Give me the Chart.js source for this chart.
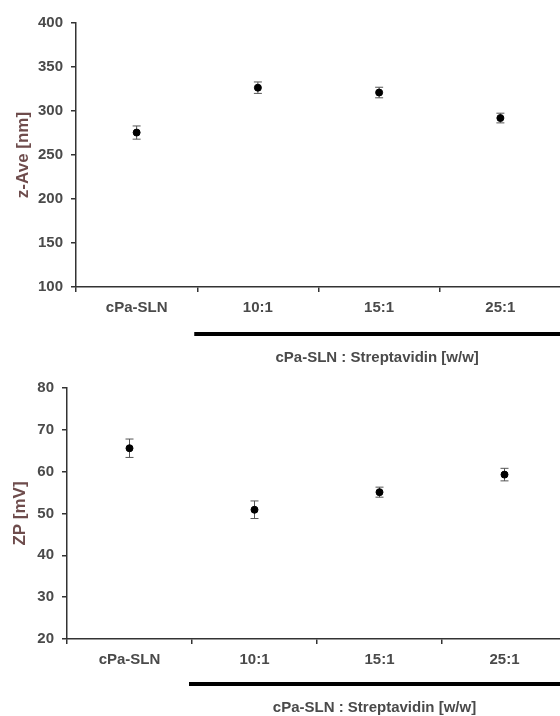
<!DOCTYPE html>
<html lang="en">
<head>
<meta charset="UTF-8">
<title>z-Ave / ZP</title>
<script src="https://cdn.jsdelivr.net/npm/chart.js"></script>
<style>
    body { margin: 0; width: 560px; height: 716px; overflow: hidden; background: #fff; position: relative; }
    #topChart { position: absolute; left: 0; top: 0; }
    #bottomChart { position: absolute; left: 0; top: 370px; }
</style>
</head>
<body>
<canvas id="topChart" width="566" height="370"></canvas>
<canvas id="bottomChart" width="572" height="346"></canvas>

<script>
    // data
    const categories = ['cPa-SLN', '10:1', '15:1', '25:1'];
    const zAve = [275.5, 326.5, 321, 292];
    const zAveErr = [7.5, 6.5, 6, 5.5];
    const zp = [65.6, 50.9, 55.1, 59.3];
    const zpErr = [2.2, 2.1, 1.2, 1.5];
    const groupLabel = 'cPa-SLN : Streptavidin [w/w]';

    const tickColor = '#4a4a4a';
    const titleColor = '#6e4c4c';
    const axisColor = '#333';

    // error bars under the points
    const errorBars = {
        id: 'errorBars',
        beforeDatasetsDraw(chart, args, opts) {
            const ctx = chart.ctx;
            const x = chart.scales.x, y = chart.scales.y;
            const vals = chart.data.datasets[0].data;
            ctx.save();
            ctx.strokeStyle = '#555';
            ctx.lineWidth = 1;
            vals.forEach((v, i) => {
                const px = x.getPixelForValue(i);
                const yt = y.getPixelForValue(v + opts.errors[i]);
                const yb = y.getPixelForValue(v - opts.errors[i]);
                ctx.beginPath();
                ctx.moveTo(px, yt); ctx.lineTo(px, yb);
                ctx.moveTo(px - 4, yt); ctx.lineTo(px + 4, yt);
                ctx.moveTo(px - 4, yb); ctx.lineTo(px + 4, yb);
                ctx.stroke();
            });
            ctx.restore();
        }
    };

    // thick bar + label under the ratio groups
    const groupBar = {
        id: 'groupBar',
        afterDraw(chart, args, opts) {
            const ctx = chart.ctx;
            const x = chart.scales.x;
            const x0 = (x.getPixelForValue(0) + x.getPixelForValue(1)) / 2 - 3;
            const yLine = x.top + opts.lineGap;
            ctx.save();
            ctx.strokeStyle = '#000';
            ctx.lineWidth = 4;
            ctx.beginPath();
            ctx.moveTo(x0, yLine);
            ctx.lineTo(chart.width, yLine);
            ctx.stroke();
            ctx.fillStyle = tickColor;
            ctx.font = 'bold 15px "Liberation Sans", Arial, sans-serif';
            ctx.textAlign = 'center';
            ctx.textBaseline = 'middle';
            ctx.fillText(groupLabel, (x0 + 560) / 2, x.top + opts.textGap);
            ctx.restore();
        }
    };

    function makeChart(id, values, errors, yMin, yMax, step, yTitle, axisW, axisH, padTop, titlePad, lineGap, textGap) {
        const font = { family: '"Liberation Sans", Arial, sans-serif', size: 15, weight: 'bold' };
        return new Chart(document.getElementById(id), {
            type: 'line',
            data: {
                labels: categories,
                datasets: [{
                    data: values,
                    showLine: false,
                    pointRadius: 3.5,
                    pointBackgroundColor: '#000',
                    pointBorderColor: '#000',
                    borderColor: '#000'
                }]
            },
            plugins: [errorBars, groupBar],
            options: {
                responsive: false,
                animation: false,
                layout: { padding: { top: padTop, left: 0, right: 0, bottom: 0 } },
                plugins: {
                    legend: { display: false },
                    tooltip: { enabled: false },
                    errorBars: { errors: errors },
                    groupBar: { lineGap: lineGap, textGap: textGap }
                },
                scales: {
                    x: {
                        type: 'category',
                        offset: true,
                        grid: { offset: true, drawOnChartArea: false, tickLength: 5, color: axisColor, lineWidth: 1.5 },
                        border: { color: axisColor, width: 1.5 },
                        ticks: { color: tickColor, font: font, padding: 7 },
                        afterFit: (s) => { s.height = axisH; }
                    },
                    y: {
                        min: yMin,
                        max: yMax,
                        ticks: { stepSize: step, color: tickColor, font: font, padding: 8 },
                        grid: { drawOnChartArea: false, tickLength: 5, color: axisColor, lineWidth: 1.5 },
                        border: { color: axisColor, width: 1.5 },
                        title: {
                            display: true,
                            text: yTitle,
                            color: titleColor,
                            font: { family: '"Liberation Sans", Arial, sans-serif', size: 17, weight: 'bold' },
                            padding: { top: titlePad, bottom: 0 }
                        },
                        afterFit: (s) => { s.width = axisW; }
                    }
                }
            }
        });
    }

    makeChart('topChart', zAve, zAveErr, 100, 400, 50, 'z-Ave [nm]', 76, 83, 23, 13, 47, 71);
    makeChart('bottomChart', zp, zpErr, 20, 80, 10, 'ZP [mV]', 67, 77, 18, 10, 45, 69);
</script>
</body>
</html>
